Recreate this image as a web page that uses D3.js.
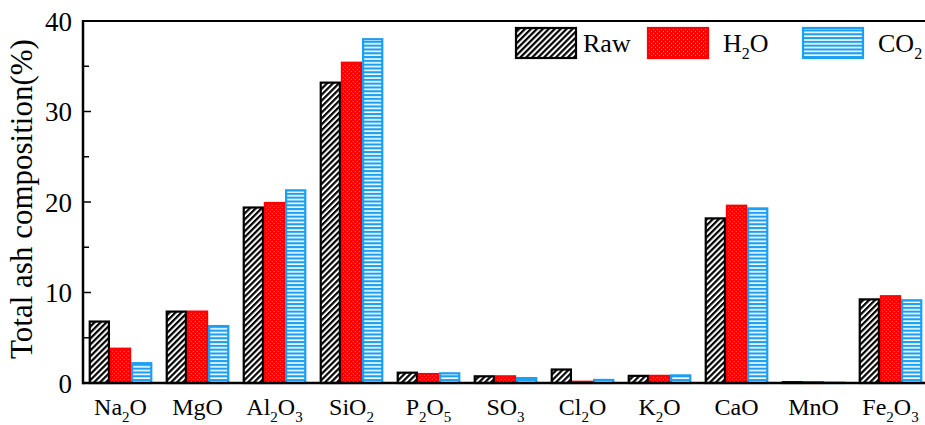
<!DOCTYPE html>
<html>
<head>
<meta charset="utf-8">
<script src="https://cdn.jsdelivr.net/npm/d3@7"></script>
<style>
  body { margin: 0; background: #fff; }
  svg { display: block; font-family: "Liberation Serif", "Times New Roman", serif; }
</style>
</head>
<body>
<div id="chart"></div>
<script>
const categories = ["Na2O", "MgO", "Al2O3", "SiO2", "P2O5", "SO3", "Cl2O", "K2O", "CaO", "MnO", "Fe2O3"];
const seriesNames = ["Raw", "H2O", "CO2"];
const rawValues = [6.9, 8.0, 19.5, 33.3, 1.25, 0.85, 1.6, 0.9, 18.3, 0.2, 9.35];
const h2oValues = [3.9, 8.0, 20.0, 35.5, 1.1, 0.85, 0.25, 0.9, 19.7, 0.2, 9.7];
const co2Values = [2.3, 6.4, 21.4, 38.1, 1.18, 0.65, 0.45, 0.95, 19.4, 0.15, 9.25];
const yTicks = [0, 10, 20, 30, 40];
const yMinorTicks = [5, 15, 25, 35];

const W = 925, H = 425;
const svg = d3.select("#chart").append("svg")
    .attr("width", W)
    .attr("height", H);

const defs = svg.append("defs");

// diagonal hatch for Raw
const hatch = defs.append("pattern")
    .attr("id", "hatch")
    .attr("patternUnits", "userSpaceOnUse")
    .attr("width", 4.2).attr("height", 4.2)
    .attr("patternTransform", "rotate(45)");
hatch.append("rect").attr("width", 4.2).attr("height", 4.2).attr("fill", "#fff");
hatch.append("line")
    .attr("x1", 1.1).attr("y1", 0).attr("x2", 1.1).attr("y2", 4.2)
    .attr("stroke", "#000").attr("stroke-width", 2.2);

// red with faint white dots
const dots = defs.append("pattern")
    .attr("id", "dots")
    .attr("patternUnits", "userSpaceOnUse")
    .attr("width", 4).attr("height", 4);
dots.append("rect").attr("width", 4).attr("height", 4).attr("fill", "#ff0000");
dots.append("rect").attr("x", 1).attr("y", 1).attr("width", 1).attr("height", 1)
    .attr("fill", "#fff").attr("opacity", 0.45);
dots.append("rect").attr("x", 3).attr("y", 3).attr("width", 1).attr("height", 1)
    .attr("fill", "#fff").attr("opacity", 0.45);

// blue horizontal stripes
const stripes = defs.append("pattern")
    .attr("id", "stripes")
    .attr("patternUnits", "userSpaceOnUse")
    .attr("width", 4).attr("height", 3.8);
stripes.append("rect").attr("width", 4).attr("height", 3.8).attr("fill", "#1a9ff2");
stripes.append("rect").attr("y", 1.2).attr("width", 4).attr("height", 1.6).attr("fill", "#fff");

const fills = ["url(#hatch)", "url(#dots)", "url(#stripes)"];
const strokes = ["#000", "#ff0000", "#1a9ff2"];

const x = d3.scaleBand()
    .domain(categories)
    .range([82, 929])
    .paddingInner(0.175)
    .paddingOuter(0.0875);

const xs = d3.scaleBand()
    .domain(seriesNames)
    .range([0, x.bandwidth()]);

const y = d3.scaleLinear()
    .domain([0, 40])
    .range([383, 21]);

const values = [rawValues, h2oValues, co2Values];

// bars
const groups = svg.append("g").selectAll("g")
    .data(categories)
    .join("g")
    .attr("transform", d => "translate(" + x(d) + ",0)");

groups.selectAll("rect")
    .data((d, i) => seriesNames.map((s, j) => ({ s: s, j: j, v: values[j][i] })))
    .join("rect")
    .attr("x", d => xs(d.s) + 1)
    .attr("y", d => y(d.v) + 1)
    .attr("width", xs.bandwidth() - 2)
    .attr("height", d => Math.max(0, y(0) - y(d.v) - 1))
    .attr("fill", d => fills[d.j])
    .attr("stroke", d => strokes[d.j])
    .attr("stroke-width", 2.2);

// chemical formulas with subscripts
function formula(sel, label, size, subSize) {
    const parts = label.match(/[A-Za-z]+|\d+/g);
    parts.forEach((p, k) => {
        const isNum = /\d/.test(p);
        sel.append("tspan")
            .attr("font-size", isNum ? subSize : size)
            .attr("dy", isNum ? size * 0.28 : (k > 0 ? -size * 0.28 : 0))
            .text(p);
    });
}

// x labels
svg.append("g").selectAll("text")
    .data(categories)
    .join("text")
    .attr("x", d => x(d) + x.bandwidth() / 2)
    .attr("y", 415)
    .attr("text-anchor", "middle")
    .attr("fill", "#000")
    .each(function (d) { formula(d3.select(this), d, 24, 15); });

// axis lines
svg.append("line")
    .attr("x1", 83).attr("x2", 925)
    .attr("y1", y(0)).attr("y2", y(0))
    .attr("stroke", "#000").attr("stroke-width", 2.5);
svg.append("line")
    .attr("x1", 83).attr("x2", 925)
    .attr("y1", y(40)).attr("y2", y(40))
    .attr("stroke", "#000").attr("stroke-width", 2);
svg.append("line")
    .attr("x1", 83).attr("x2", 83)
    .attr("y1", y(40) - 1).attr("y2", y(0) + 1.2)
    .attr("stroke", "#000").attr("stroke-width", 2.5);

// y ticks
const yAxis = svg.append("g");
yAxis.selectAll("line.major")
    .data(yTicks)
    .join("line")
    .attr("class", "major")
    .attr("x1", 83).attr("x2", 91)
    .attr("y1", d => y(d)).attr("y2", d => y(d))
    .attr("stroke", "#000").attr("stroke-width", 1.5);
yAxis.selectAll("line.minor")
    .data(yMinorTicks)
    .join("line")
    .attr("class", "minor")
    .attr("x1", 83).attr("x2", 89)
    .attr("y1", d => y(d)).attr("y2", d => y(d))
    .attr("stroke", "#000").attr("stroke-width", 1.5);
yAxis.selectAll("text")
    .data(yTicks)
    .join("text")
    .attr("x", 72)
    .attr("y", d => y(d))
    .attr("dy", "0.36em")
    .attr("text-anchor", "end")
    .attr("font-size", 27)
    .attr("fill", "#000")
    .text(d => d);

// y title
svg.append("text")
    .attr("transform", "translate(32,199) rotate(-90)")
    .attr("text-anchor", "middle")
    .attr("font-size", 31)
    .attr("fill", "#000")
    .text("Total ash composition(%)");

// legend
const legendBoxX = [515, 647, 802];
const legendTextX = [583, 723, 878];
const legend = svg.append("g");
seriesNames.forEach((s, j) => {
    legend.append("rect")
        .attr("x", legendBoxX[j] + 1)
        .attr("y", 28)
        .attr("width", 60)
        .attr("height", 30)
        .attr("fill", fills[j])
        .attr("stroke", strokes[j])
        .attr("stroke-width", 2.2);
    const t = legend.append("text")
        .attr("x", legendTextX[j])
        .attr("y", 52)
        .attr("fill", "#000");
    formula(t, s, 26, 16);
});
</script>
</body>
</html>
